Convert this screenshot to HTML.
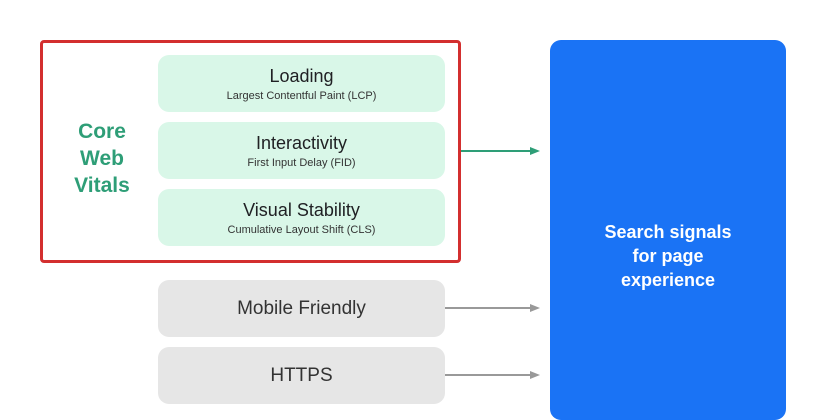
<!DOCTYPE html>
<html><head><style>
body{margin:0;width:813px;height:400px;background:#fff;position:relative;overflow:hidden;font-family:"Liberation Sans",sans-serif}
.b{position:absolute;border-radius:11px;text-align:center;box-sizing:border-box}
.g{background:#d9f7e8;color:#202124;left:158px;width:287px;height:57px}
.gr{background:#e6e6e6;color:#333;left:158px;width:287px;height:57px;font-size:19px;line-height:57px}
.t{font-size:18px;margin-top:10px;line-height:22px}
.s{font-size:11px;color:#333;line-height:14px;margin-top:2px}
</style></head><body>
<div style="position:absolute;left:40px;top:40px;width:421px;height:223px;border:3px solid #d32f2f;box-sizing:border-box;border-radius:4px"></div>
<div style="position:absolute;left:60px;top:118px;width:84px;text-align:center;color:#2e9e77;font-weight:bold;font-size:21px;line-height:27px">Core<br>Web<br>Vitals</div>
<div class="b g" style="top:55px"><div class="t">Loading</div><div class="s">Largest Contentful Paint (LCP)</div></div>
<div class="b g" style="top:122px"><div class="t">Interactivity</div><div class="s">First Input Delay (FID)</div></div>
<div class="b g" style="top:189px"><div class="t">Visual Stability</div><div class="s">Cumulative Layout Shift (CLS)</div></div>
<div class="b gr" style="top:280px">Mobile Friendly</div>
<div class="b gr" style="top:347px">HTTPS</div>
<div class="b" style="left:550px;top:40px;width:236px;height:380px;background:#1a73f5;color:#fff;font-weight:bold;font-size:18px;line-height:24px;padding-top:180px">Search signals<br>for page<br>experience</div>
<svg style="position:absolute;left:0;top:0" width="813" height="400">
<line x1="461" y1="151" x2="532" y2="151" stroke="#2e9e77" stroke-width="2"/><polygon points="540,151 530,147 530,155" fill="#2e9e77"/>
<line x1="445" y1="308" x2="532" y2="308" stroke="#999" stroke-width="2"/><polygon points="540,308 530,304 530,312" fill="#999"/>
<line x1="445" y1="375" x2="532" y2="375" stroke="#999" stroke-width="2"/><polygon points="540,375 530,371 530,379" fill="#999"/>
</svg>
</body></html>
